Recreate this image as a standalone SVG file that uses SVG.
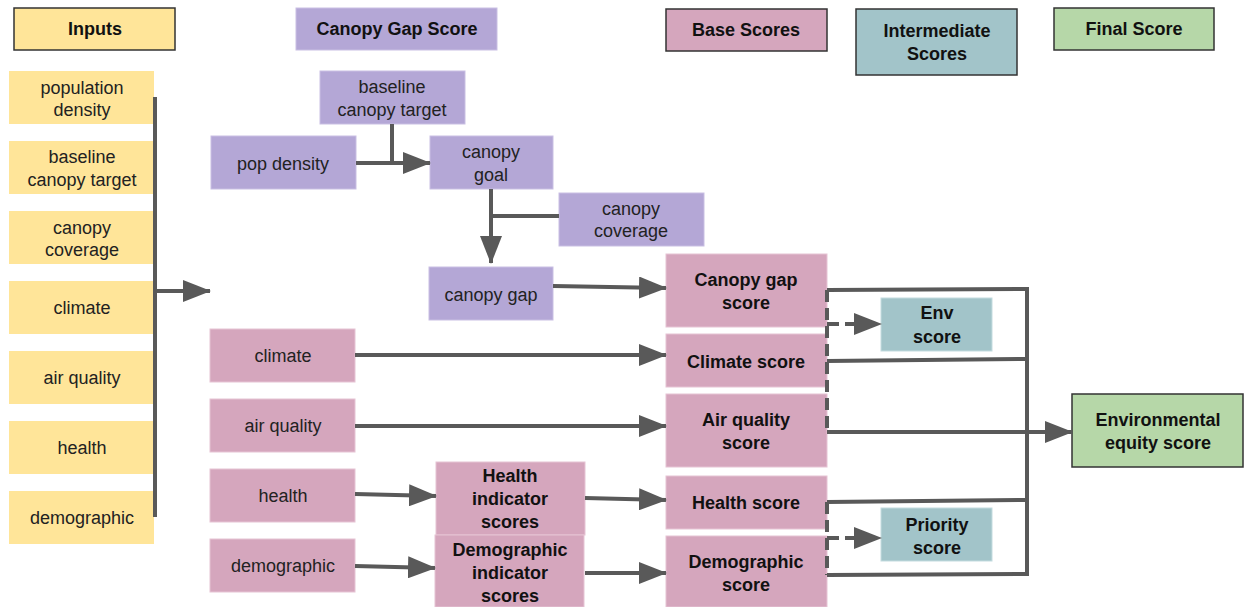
<svg xmlns="http://www.w3.org/2000/svg" width="1244" height="607" viewBox="0 0 1244 607">
  <style>
    text { font-family: "Liberation Sans", Arial, sans-serif; font-size: 18px; fill: #222; text-anchor: middle; }
    .b { font-weight: bold; fill: #111; }
    .yel { fill: #ffe599; }
    .pur { fill: #b4a7d6; stroke: #c9bfe3; stroke-width: 1; }
    .pnk { fill: #d5a6bd; stroke: #e6c4d4; stroke-width: 1; }
    .tea { fill: #a2c4c9; stroke: #c4dcdf; stroke-width: 1; }
    .grn { fill: #b6d7a8; }
    .hdr { stroke: #333; stroke-width: 1.5; }
    .ln { fill: none; stroke: #595959; stroke-width: 4; }
    .dash { fill: none; stroke: #595959; stroke-width: 4; stroke-dasharray: 12 6; }
  </style>
  <defs>
    <marker id="arr" markerUnits="userSpaceOnUse" markerWidth="28" markerHeight="22" refX="27" refY="11" orient="auto">
      <path d="M0,0 L28,11 L0,22 z" fill="#595959"/>
    </marker>
  </defs>
  <rect width="1244" height="607" fill="#fff"/>

  <!-- legend headers -->
  <g id="hdr-inputs"><rect class="yel hdr" x="14" y="8" width="161" height="42"/><text class="b" x="95" y="35">Inputs</text></g>
  <g id="hdr-canopy"><rect class="pur" x="296" y="8" width="201" height="42"/><text class="b" x="397" y="35">Canopy Gap Score</text></g>
  <g id="hdr-base"><rect class="pnk hdr" x="666" y="9" width="161" height="42"/><text class="b" x="746" y="36">Base Scores</text></g>
  <g id="hdr-inter"><rect class="tea hdr" x="856" y="9" width="161" height="66"/><text class="b" x="937" y="37">Intermediate</text><text class="b" x="937" y="60">Scores</text></g>
  <g id="hdr-final"><rect class="grn hdr" x="1054" y="8" width="160" height="42"/><text class="b" x="1134" y="35">Final Score</text></g>

  <!-- inputs column -->
  <g id="in-popdens"><rect class="yel" x="9" y="71" width="145" height="53"/><text x="82" y="94">population</text><text x="82" y="116">density</text></g>
  <g id="in-baseline"><rect class="yel" x="9" y="141" width="145" height="53"/><text x="82" y="163">baseline</text><text x="82" y="186">canopy target</text></g>
  <g id="in-coverage"><rect class="yel" x="9" y="211" width="145" height="53"/><text x="82" y="234">canopy</text><text x="82" y="256">coverage</text></g>
  <g id="in-climate"><rect class="yel" x="9" y="281" width="145" height="53"/><text x="82" y="314">climate</text></g>
  <g id="in-air"><rect class="yel" x="9" y="351" width="145" height="53"/><text x="82" y="384">air quality</text></g>
  <g id="in-health"><rect class="yel" x="9" y="421" width="145" height="53"/><text x="82" y="454">health</text></g>
  <g id="in-demo"><rect class="yel" x="9" y="491" width="145" height="53"/><text x="82" y="524">demographic</text></g>

  <!-- canopy gap calculation -->
  <g id="cg-baseline"><rect class="pur" x="320" y="71" width="145" height="53"/><text x="392" y="93">baseline</text><text x="392" y="116">canopy target</text></g>
  <g id="cg-popdens"><rect class="pur" x="211" y="136" width="145" height="53"/><text x="283" y="170">pop density</text></g>
  <g id="cg-goal"><rect class="pur" x="430" y="136" width="123" height="53"/><text x="491" y="158">canopy</text><text x="491" y="181">goal</text></g>
  <g id="cg-coverage"><rect class="pur" x="559" y="193" width="145" height="53"/><text x="631" y="215">canopy</text><text x="631" y="237">coverage</text></g>
  <g id="cg-gap"><rect class="pur" x="429" y="267" width="124" height="53"/><text x="491" y="301">canopy gap</text></g>

  <!-- raw input nodes -->
  <g id="raw-climate"><rect class="pnk" x="210" y="329" width="145" height="53"/><text x="283" y="362">climate</text></g>
  <g id="raw-air"><rect class="pnk" x="210" y="399" width="145" height="53"/><text x="283" y="432">air quality</text></g>
  <g id="raw-health"><rect class="pnk" x="210" y="469" width="145" height="53"/><text x="283" y="502">health</text></g>
  <g id="raw-demo"><rect class="pnk" x="210" y="539" width="145" height="53"/><text x="283" y="572">demographic</text></g>
  <g id="ind-health"><rect class="pnk" x="436" y="462" width="149" height="73"/><text class="b" x="510" y="482">Health</text><text class="b" x="510" y="505">indicator</text><text class="b" x="510" y="528">scores</text></g>
  <g id="ind-demo"><rect class="pnk" x="435" y="535" width="149" height="72"/><text class="b" x="510" y="556">Demographic</text><text class="b" x="510" y="579">indicator</text><text class="b" x="510" y="602">scores</text></g>

  <!-- base scores -->
  <g id="bs-canopy"><rect class="pnk" x="666" y="254" width="161" height="73"/><text class="b" x="746" y="286">Canopy gap</text><text class="b" x="746" y="309">score</text></g>
  <g id="bs-climate"><rect class="pnk" x="666" y="334" width="161" height="53"/><text class="b" x="746" y="368">Climate score</text></g>
  <g id="bs-air"><rect class="pnk" x="666" y="394" width="161" height="73"/><text class="b" x="746" y="426">Air quality</text><text class="b" x="746" y="449">score</text></g>
  <g id="bs-health"><rect class="pnk" x="666" y="476" width="161" height="53"/><text class="b" x="746" y="509">Health score</text></g>
  <g id="bs-demo"><rect class="pnk" x="666" y="536" width="161" height="71"/><text class="b" x="746" y="568">Demographic</text><text class="b" x="746" y="591">score</text></g>

  <!-- intermediate and final -->
  <g id="env"><rect class="tea" x="881" y="298" width="111" height="53"/><text class="b" x="937" y="319">Env</text><text class="b" x="937" y="343">score</text></g>
  <g id="priority"><rect class="tea" x="881" y="508" width="111" height="53"/><text class="b" x="937" y="531">Priority</text><text class="b" x="937" y="554">score</text></g>
  <g id="equity"><rect class="grn hdr" x="1072" y="394" width="171" height="73"/><text class="b" x="1158" y="426">Environmental</text><text class="b" x="1158" y="449">equity score</text></g>

  <!-- connectors -->
  <g id="connectors">
    <path class="ln" d="M155,97 V517"/>
    <path class="ln" d="M155,291 H210" marker-end="url(#arr)"/>
    <path class="ln" d="M392,124 V163"/>
    <path class="ln" d="M356,163 H430" marker-end="url(#arr)"/>
    <path class="ln" d="M491,189 V263" marker-end="url(#arr)"/>
    <path class="ln" d="M559,216 H491"/>
    <path class="ln" d="M553,286 L666,288" marker-end="url(#arr)"/>
    <path class="ln" d="M355,355 H666" marker-end="url(#arr)"/>
    <path class="ln" d="M355,426 H666" marker-end="url(#arr)"/>
    <path class="ln" d="M355,494 L436,496" marker-end="url(#arr)"/>
    <path class="ln" d="M355,566 L435,568" marker-end="url(#arr)"/>
    <path class="ln" d="M585,498 L666,500" marker-end="url(#arr)"/>
    <path class="ln" d="M585,573 H666" marker-end="url(#arr)"/>
    <path class="ln" d="M827,290 L1027,289 V574 L827,575"/>
    <path class="ln" d="M827,361 L1027,359"/>
    <path class="ln" d="M827,502 L1027,500"/>
    <path class="ln" d="M827,432 H1072" marker-end="url(#arr)"/>
    <path class="dash" d="M827,290 V434"/>
    <path class="dash" d="M827,324 H881" marker-end="url(#arr)"/>
    <path class="dash" d="M827,502 V575"/>
    <path class="dash" d="M827,538 H881" marker-end="url(#arr)"/>
  </g>
</svg>
